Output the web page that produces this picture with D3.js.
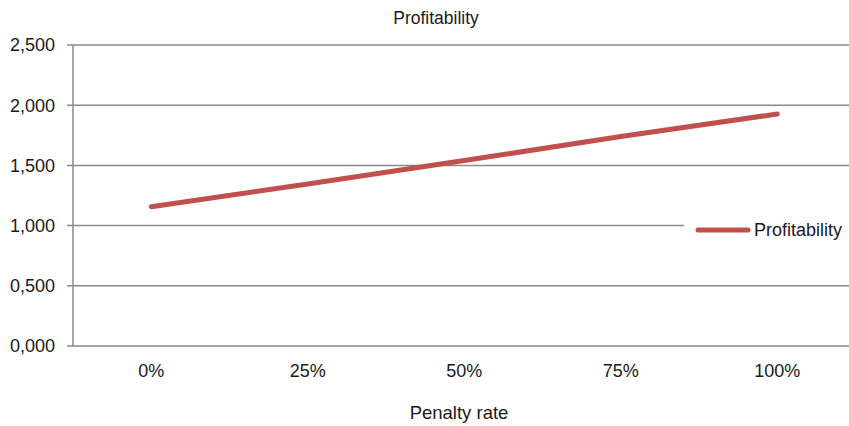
<!DOCTYPE html>
<html>
<head>
<meta charset="utf-8">
<script src="https://cdn.jsdelivr.net/npm/d3@7"></script>
<style>
  html, body { margin: 0; padding: 0; background: #fff; }
  svg { display: block; font-family: "Liberation Sans", Arial, Helvetica, sans-serif; }
</style>
</head>
<body>
<svg id="chart" width="849" height="426"></svg>
<script>
// Penalty rate categories and the resulting profitability
const categories = ["0%", "25%", "50%", "75%", "100%"];
const profitability = [1.157, 1.345, 1.540, 1.740, 1.927];
const yTicks = [0, 0.5, 1, 1.5, 2, 2.5];

const title = "Profitability";
const xTitle = "Penalty rate";
const seriesName = "Profitability";

const width = 849, height = 426;
const plotLeft = 73, plotTop = 45, plotBottom = 346;
const plotRight = plotLeft + 5 * 156.5;   // plot area runs past the right edge
const gridColor = "#8a8a8a";
const lineColor = "#c0504d";
const textColor = "#1a1a1a";

const svg = d3.select("#chart");

// Comma as decimal separator for the value axis
const locale = d3.formatLocale({ decimal: ",", thousands: ".", grouping: [3], currency: ["", ""] });
const fmt = locale.format(".3f");

const x = d3.scaleBand().domain(categories).range([plotLeft, plotRight]);
const y = d3.scaleLinear().domain([0, 2.5]).range([plotBottom, plotTop]);

// Horizontal gridlines
svg.append("g")
  .selectAll("line")
  .data(yTicks)
  .join("line")
  .attr("x1", plotLeft - 6)
  .attr("x2", width)
  .attr("y1", d => y(d))
  .attr("y2", d => y(d))
  .attr("stroke", gridColor)
  .attr("stroke-width", 1.5);

// Value axis line
svg.append("line")
  .attr("x1", plotLeft).attr("x2", plotLeft)
  .attr("y1", y(2.5)).attr("y2", y(0))
  .attr("stroke", gridColor).attr("stroke-width", 1.5);

// Value axis labels
svg.append("g")
  .selectAll("text")
  .data(yTicks)
  .join("text")
  .attr("x", 55)
  .attr("y", d => y(d))
  .attr("dy", "0.35em")
  .attr("text-anchor", "end")
  .attr("font-size", 18)
  .attr("fill", textColor)
  .text(d => fmt(d));

// Category labels
svg.append("g")
  .selectAll("text")
  .data(categories)
  .join("text")
  .attr("x", d => x(d) + x.bandwidth() / 2)
  .attr("y", 377)
  .attr("text-anchor", "middle")
  .attr("font-size", 18)
  .attr("fill", textColor)
  .text(d => d);

// Series line
const line = d3.line()
  .x((d, i) => x(categories[i]) + x.bandwidth() / 2)
  .y(d => y(d));

svg.append("path")
  .datum(profitability)
  .attr("d", line)
  .attr("fill", "none")
  .attr("stroke", lineColor)
  .attr("stroke-width", 5)
  .attr("stroke-linecap", "round")
  .attr("stroke-linejoin", "round");

// Chart title and axis title
svg.append("text")
  .attr("x", 436).attr("y", 24)
  .attr("text-anchor", "middle")
  .attr("font-size", 17.5)
  .attr("fill", textColor)
  .text(title);

svg.append("text")
  .attr("x", 459).attr("y", 419)
  .attr("text-anchor", "middle")
  .attr("font-size", 18.5)
  .attr("fill", textColor)
  .text(xTitle);

// Legend
const legend = svg.append("g").attr("transform", "translate(684,210)");
legend.append("rect")
  .attr("x", 0).attr("y", 0)
  .attr("width", width - 684).attr("height", 40)
  .attr("fill", "#fff");
legend.append("line")
  .attr("x1", 14).attr("x2", 64)
  .attr("y1", 20).attr("y2", 20)
  .attr("stroke", lineColor)
  .attr("stroke-width", 5)
  .attr("stroke-linecap", "round");
legend.append("text")
  .attr("x", 70).attr("y", 20)
  .attr("dy", "0.35em")
  .attr("font-size", 18)
  .attr("fill", textColor)
  .text(seriesName);
</script>
</body>
</html>
